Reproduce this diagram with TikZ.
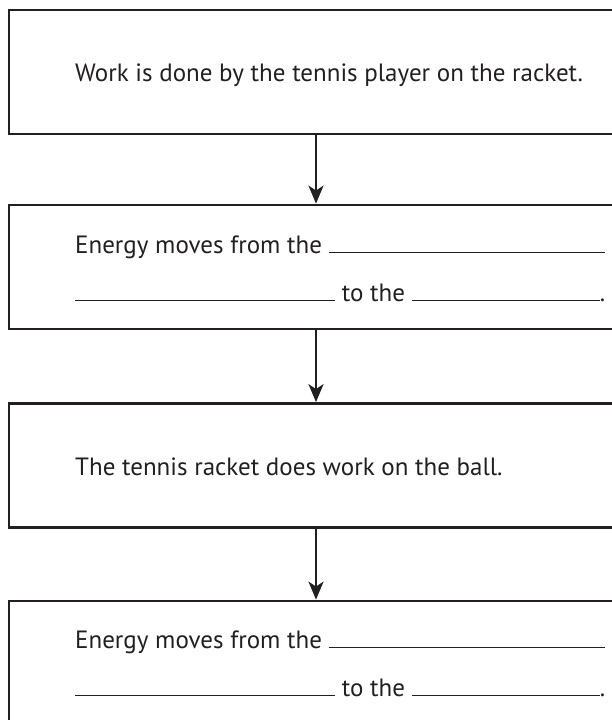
\documentclass[tikz,border=0pt]{standalone}
\usepackage{fontspec}
\setmainfont{PT Sans}
\usetikzlibrary{arrows.meta}
\definecolor{ink}{RGB}{35,31,32}
\newcommand\blankfill{\leaders\hrule height 1.2pt\hfill}
\newcommand\blankrule[1]{\rule{#1}{1.2pt}}

\begin{document}
\begin{tikzpicture}[x=1pt,y=-1pt]
\useasboundingbox (0,0) rectangle (612,720);

\begin{scope}[every node/.style={rectangle,draw=ink,line width=2.8pt,
              minimum width=614pt,minimum height=124pt,inner sep=0pt}]
    \node (b1) at (316,72) {};
    \node (b2) at (316,267) {};
    \node (b3) at (316,465.5) {};
    \node (b4) at (316,663) {};
\end{scope}

\begin{scope}[every node/.style={anchor=base west,inner sep=0pt,text=ink,
              font=\fontsize{25}{30}\selectfont}]
    \node (t1) at (75,81) {Work is done by the tennis player on the racket.};
    \node (t2a) at (75,253) {\makebox[530pt][l]{Energy moves from the \blankfill}};
    \node (t2b) at (75,301) {\makebox[530pt][l]{\blankrule{260pt} to the \blankfill.}};
    \node (t3) at (75,475) {The tennis racket does work on the ball.};
    \node (t4a) at (75,648) {\makebox[530pt][l]{Energy moves from the \blankfill}};
    \node (t4b) at (75,696) {\makebox[530pt][l]{\blankrule{260pt} to the \blankfill.}};
\end{scope}

\begin{scope}[every edge/.style={draw=ink,line width=2.4pt,
              -{Stealth[length=18pt,width=15pt,inset=5pt]}}]
    \path (b1) edge (b2);
    \path (b2) edge (b3);
    \path (b3) edge (b4);
\end{scope}
\end{tikzpicture}
\end{document}
